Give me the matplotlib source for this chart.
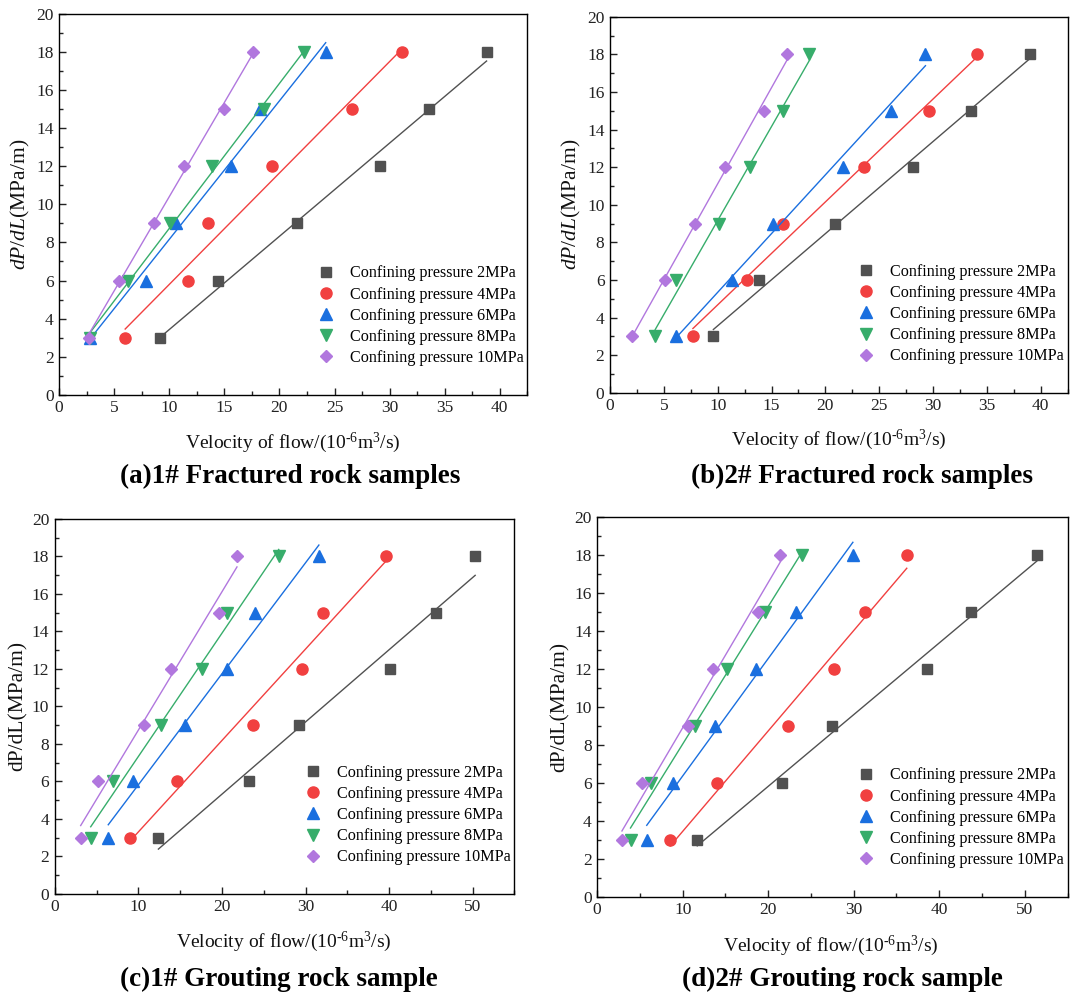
import numpy as np
import matplotlib
matplotlib.use("Agg")
import matplotlib.pyplot as plt
from matplotlib.ticker import MultipleLocator

plt.rcParams['font.family'] = ['Liberation Serif', 'DejaVu Serif']
plt.rcParams['mathtext.fontset'] = 'custom'
plt.rcParams['mathtext.rm'] = 'Liberation Serif'
plt.rcParams['mathtext.it'] = 'Liberation Serif:italic'

# pressure gradient levels (same for every sample)
dpdl = [3, 6, 9, 12, 15, 18]
labels = ["Confining pressure 2MPa", "Confining pressure 4MPa",
          "Confining pressure 6MPa", "Confining pressure 8MPa",
          "Confining pressure 10MPa"]

# flow velocity (1e-6 m3/s), one row per confining pressure
vel_a = [[9.2, 14.4, 21.6, 29.1, 33.6, 38.8],
         [6.0, 11.7, 13.5, 19.35, 26.6, 31.1],
         [2.8, 7.9, 10.6, 15.6, 18.2, 24.2],
         [2.8, 6.3, 10.1, 13.9, 18.6, 22.2],
         [2.7, 5.4, 8.6, 11.3, 15.0, 17.6]]
vel_b = [[9.6, 13.8, 20.9, 28.1, 33.5, 39.0],
         [7.7, 12.7, 16.1, 23.6, 29.6, 34.1],
         [6.1, 11.3, 15.1, 21.6, 26.1, 29.3],
         [4.2, 6.1, 10.1, 13.0, 16.1, 18.5],
         [2.0, 5.1, 7.85, 10.7, 14.3, 16.4]]
vel_c = [[12.4, 23.2, 29.2, 40.1, 45.6, 50.3],
         [9.0, 14.6, 23.7, 29.6, 32.1, 39.6],
         [6.4, 9.3, 15.6, 20.6, 24.0, 31.6],
         [4.3, 7.0, 12.7, 17.6, 20.6, 26.8],
         [3.1, 5.2, 10.7, 13.9, 19.7, 21.8]]
vel_d = [[11.7, 21.6, 27.5, 38.6, 43.7, 51.4],
         [8.55, 14.0, 22.35, 27.7, 31.3, 36.2],
         [5.8, 8.9, 13.8, 18.6, 23.2, 29.9],
         [3.9, 6.3, 11.4, 15.2, 19.6, 24.0],
         [2.9, 5.3, 10.6, 13.6, 18.8, 21.4]]

colors = ['#515151', '#F14040', '#1A6FDF', '#37AD6B', '#B177DE']
markers = ['s', 'o', '^', 'v', 'D']
msizes = [7.5, 8, 8, 8, 6.5]

fig = plt.figure(figsize=(10.74, 9.92), dpi=100)

panels = [
    # axes rect, data, xmax, xmajor, ylabel, title, xlabel pos, title pos
    ([0.055, 0.602, 0.436, 0.384], vel_a, 42.5, 5, r'$dP/dL$(MPa/m)',
     '(a)1# Fractured rock samples', (293, 443), (290, 476)),
    ([0.568, 0.604, 0.426, 0.379], vel_b, 42.5, 5, r'$dP/dL$(MPa/m)',
     '(b)2# Fractured rock samples', (839, 440), (862, 476)),
    ([0.051, 0.099, 0.428, 0.378], vel_c, 55, 10, 'dP/dL(MPa/m)',
     '(c)1# Grouting rock sample', (284, 942), (279, 979)),
    ([0.556, 0.096, 0.438, 0.383], vel_d, 55, 10, 'dP/dL(MPa/m)',
     '(d)2# Grouting rock sample', (831, 946), (842, 979)),
]

W, H = 1074.0, 992.0
for rect, data, xmax, xmaj, ylab, title, xlpos, tpos in panels:
    ax = fig.add_axes(rect)
    for i in range(5):
        x = np.array(data[i])
        y = np.array(dpdl)
        k, b = np.polyfit(x, y, 1)
        xs = np.array([x.min(), x.max()])
        ax.plot(xs, k * xs + b, color=colors[i], lw=1.0)
        ax.plot(x, y, linestyle='none', marker=markers[i], ms=msizes[i],
                color=colors[i], mec=colors[i], label=labels[i])
    ax.set_xlim(0, xmax)
    ax.set_ylim(0, 20)
    ax.xaxis.set_major_locator(MultipleLocator(xmaj))
    ax.xaxis.set_minor_locator(MultipleLocator(xmaj / 2))
    ax.yaxis.set_major_locator(MultipleLocator(2))
    ax.yaxis.set_minor_locator(MultipleLocator(1))
    ax.tick_params(which='both', direction='in', top=False, right=False,
                   labelsize=12.5, colors='#222222', pad=4)
    ax.tick_params(which='major', length=5, width=1)
    ax.tick_params(which='minor', length=3, width=1)
    for sp in ax.spines.values():
        sp.set_linewidth(1.0)
    ax.legend(loc='lower right', bbox_to_anchor=(1.012, 0.05), frameon=False,
              fontsize=11.6, handletextpad=0.7, labelspacing=0.32,
              handlelength=1.5, borderaxespad=0.2)
    fig.text(xlpos[0] / W, 1 - xlpos[1] / H,
             'Velocity of flow/(10$^{\u2010 6}$m$^{3}$/s)', fontsize=14,
             ha='center', va='center', color='#111111')
    ax.set_ylabel(ylab, fontsize=15.5, labelpad=3, color='#111111')
    fig.text(tpos[0] / W, 1 - tpos[1] / H, title, fontsize=19.5,
             fontweight='bold', ha='center', va='center')

fig.savefig('out.png', dpi=100)
